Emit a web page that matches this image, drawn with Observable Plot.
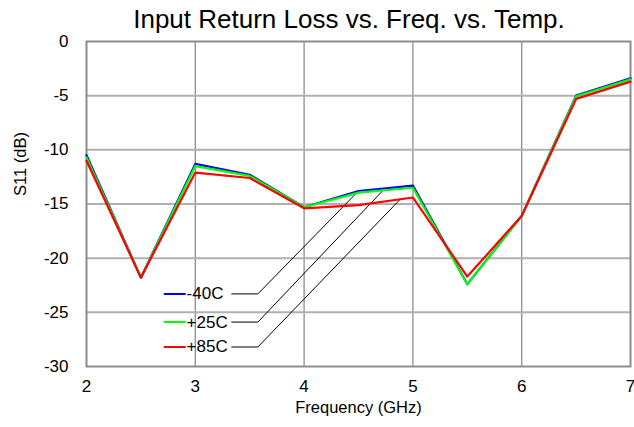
<!DOCTYPE html>
<html>
<head>
<meta charset="utf-8">
<script src="https://cdn.jsdelivr.net/npm/d3@7"></script>
<script src="https://cdn.jsdelivr.net/npm/@observablehq/plot@0.6"></script>
<style>
  html, body { margin: 0; padding: 0; background: #fff; }
  #wrap { position: relative; width: 634px; height: 427px; overflow: hidden; }
  #title { position: absolute; top: 4px; left: 64px; width: 570px; text-align: center; line-height: 30px;
           font-family: "Liberation Sans", Arial, sans-serif; font-size: 26px; color: #000; }
  #chart { position: absolute; top: 0; left: 0; }
</style>
</head>
<body>
<div id="wrap">
  <div id="chart"></div>
  <div id="title">Input Return Loss vs. Freq. vs. Temp.</div>
</div>
<script>
// ---- data ----
const freqGHz = [2, 2.5, 3, 3.5, 4, 4.5, 5, 5.5, 6, 6.5, 7];
const s11_m40C = [-10.5, -21.8, -11.3, -12.3, -15.3, -13.8, -13.3, -22.4, -16.1, -5.0, -3.4];
const s11_p25C = [-10.7, -21.8, -11.5, -12.4, -15.3, -13.95, -13.5, -22.4, -16.1, -5.05, -3.5];
const s11_p85C = [-11.0, -21.8, -12.1, -12.6, -15.4, -15.1, -14.4, -21.7, -16.1, -5.3, -3.7];
const seriesNames = ["-40C", "+25C", "+85C"];
const seriesColors = ["#0000ff", "#00ff00", "#ff0000"];
const xTicks = [2, 3, 4, 5, 6, 7];
const yTicks = [0, -5, -10, -15, -20, -25, -30];
// legend rows (dB level of each legend entry) and where each leader line points
const legendRowDb = [-23.3, -25.9, -28.2];
const leaderTargetFreq = [4.49, 4.72, 4.88];
const leaderTargetDb = [-13.9, -13.8, -14.6];

const seriesValues = [s11_m40C, s11_p25C, s11_p85C];
const rows = [];
seriesNames.forEach((name, i) => {
  freqGHz.forEach((f, j) => rows.push({series: name, freq: f, s11: seriesValues[i][j]}));
});

// legend geometry (in data units)
const swatchX0 = 2.717, swatchX1 = 2.905, textX = 2.92;
const leadX0 = 3.335, leadX1 = 3.575;
const legendSwatches = [];
const leaderPts = [];
seriesNames.forEach((name, i) => {
  legendSwatches.push({series: name, x: swatchX0, y: legendRowDb[i]});
  legendSwatches.push({series: name, x: swatchX1, y: legendRowDb[i]});
  leaderPts.push({series: name, x: leadX0, y: legendRowDb[i]});
  leaderPts.push({series: name, x: leadX1, y: legendRowDb[i]});
  leaderPts.push({series: name, x: leaderTargetFreq[i], y: leaderTargetDb[i]});
});
const legendTexts = seriesNames.map((name, i) => ({series: name, x: textX, y: legendRowDb[i]}));

const colorScale = {domain: seriesNames, range: seriesColors};

const chart = Plot.plot({
  width: 634,
  height: 427,
  marginLeft: 86,
  marginRight: 4,
  marginTop: 41,
  marginBottom: 61,
  style: {fontFamily: "'Liberation Sans', Arial, sans-serif", fontSize: "17px", background: "#fff", color: "#000"},
  x: {domain: [2, 7], label: null},
  y: {domain: [-30, 0], label: null},
  color: colorScale,
  marks: [
    Plot.ruleX(xTicks.slice(1, -1), {stroke: "#8c8c8c", strokeWidth: 1.3}),
    Plot.ruleY(yTicks.slice(1, -1), {stroke: "#b0b0b0", strokeWidth: 2}),
    Plot.frame({stroke: "#8c8c8c", strokeWidth: 2}),
    Plot.axisX({ticks: xTicks, tickSize: 0, tickPadding: 13, tickFormat: d => String(d), label: null, fontSize: 17}),
    Plot.axisY({ticks: yTicks, tickSize: 0, tickPadding: 18, tickFormat: d => String(d).replace("−", "-"), label: null, fontSize: 17}),
    Plot.text(["Frequency (GHz)"], {frameAnchor: "bottom", dy: 46, fontSize: 16.5}),
    Plot.text(["S11 (dB)"], {frameAnchor: "left", dx: -66, dy: -8, rotate: -90, fontSize: 16.5}),
    Plot.line(leaderPts, {x: "x", y: "y", z: "series", stroke: "#000", strokeWidth: 1}),
    Plot.line(legendSwatches, {x: "x", y: "y", z: "series", stroke: "series", strokeWidth: 2}),
    Plot.text(legendTexts, {x: "x", y: "y", text: "series", textAnchor: "start", fontSize: 17}),
    Plot.line(rows, {x: "freq", y: "s11", z: "series", stroke: "series", strokeWidth: 2.2})
  ]
});
document.getElementById("chart").appendChild(chart);
</script>
</body>
</html>
